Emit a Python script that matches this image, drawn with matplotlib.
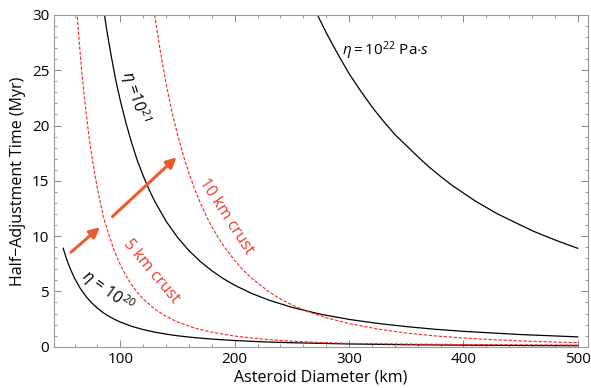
import matplotlib
matplotlib.use("Agg")
import matplotlib.pyplot as plt
from matplotlib.ticker import MultipleLocator

plt.rcParams["font.family"] = ["Open Sans", "DejaVu Sans"]
plt.rcParams["mathtext.fontset"] = "custom"
plt.rcParams["mathtext.rm"] = "Open Sans"
plt.rcParams["mathtext.it"] = "Open Sans:italic"

# black curves: uniform viscosity
d_20 = [50, 53, 56, 60, 65, 70, 75, 80, 85, 90, 95, 100, 110, 120, 130, 140, 150, 165, 180, 200,
        225, 250, 300, 350, 400, 450, 500]
t_20 = [8.9, 7.92, 7.10, 6.18, 5.27, 4.54, 3.96, 3.48, 3.08, 2.75, 2.47, 2.23, 1.84, 1.55, 1.32, 1.14,
        0.99, 0.82, 0.69, 0.56, 0.44, 0.36, 0.25, 0.18, 0.14, 0.11, 0.09]

d_21 = [85, 88, 92, 96, 100, 105, 110, 115, 120, 125, 130, 140, 150, 160, 170, 180, 190, 200, 215,
        230, 250, 275, 300, 325, 350, 375, 400, 450, 500]
t_21 = [30.8, 28.7, 26.3, 24.1, 22.25, 20.2, 18.4, 16.8, 15.45, 14.24, 13.17, 11.35, 9.89, 8.69, 7.70,
        6.87, 6.16, 5.56, 4.81, 4.21, 3.56, 2.94, 2.47, 2.11, 1.82, 1.58, 1.39, 1.10, 0.89]

d_22 = [270, 280, 290, 300, 310, 320, 330, 340, 350, 360, 370, 380, 390, 400, 410, 420, 430, 440,
        450, 460, 470, 480, 490, 500]
t_22 = [30.5, 28.4, 26.5, 24.7, 23.15, 21.7, 20.4, 19.2, 18.2, 17.2, 16.25, 15.4, 14.6, 13.9, 13.2,
        12.6, 12.0, 11.5, 11.0, 10.5, 10.07, 9.66, 9.27, 8.9]

# red dashed curves: with crust
d_5km = [62, 64, 66, 68, 70, 73, 75, 78, 80, 85, 90, 95, 100, 105, 110, 115, 120, 130, 140, 150,
         165, 180, 200, 225, 250, 275, 300, 350, 400, 450, 500]
t_5km = [30.3, 27.6, 25.2, 23.1, 21.2, 18.7, 17.3, 15.4, 14.3, 11.8, 10.1, 8.6, 7.4, 6.4, 5.58, 4.9,
         4.32, 3.41, 2.74, 2.24, 1.69, 1.31, 0.96, 0.68, 0.50, 0.38, 0.30, 0.24, 0.20, 0.17, 0.15]

d_10km = [130, 135, 140, 145, 150, 155, 160, 165, 170, 175, 180, 185, 190, 200, 207, 215, 230, 240,
          250, 265, 280, 300, 325, 350, 375, 400, 425, 450, 475, 500]
t_10km = [30, 26.7, 23.8, 21.3, 19.2, 17.3, 15.7, 14.25, 13.0, 11.85, 10.85, 9.96, 9.16, 7.8, 6.98,
          6.17, 4.96, 4.32, 3.79, 3.13, 2.62, 2.1, 1.60, 1.24, 0.98, 0.79, 0.64, 0.53, 0.44, 0.37]

fig = plt.figure(figsize=(5.91, 3.88), dpi=100)
ax = fig.add_axes([0.0914, 0.1064, 0.9036, 0.855])

ax.plot(d_20, t_20, color="black", lw=0.9)
ax.plot(d_21, t_21, color="black", lw=0.9)
ax.plot(d_22, t_22, color="black", lw=0.9)
ax.plot(d_5km, t_5km, color="#ff2020", lw=0.8, ls=(0, (3, 1.5)))
ax.plot(d_10km, t_10km, color="#ff2020", lw=0.8, ls=(0, (3, 1.5)))

arrow_kw = dict(arrowstyle="-|>,head_length=0.6,head_width=0.3", color="#ee5a2c", lw=2.2)
ax.annotate("", xy=(84, 10.97), xytext=(54.9, 8.38), arrowprops=arrow_kw)
ax.annotate("", xy=(150.9, 17.3), xytext=(91.3, 11.6), arrowprops=arrow_kw)

ax.text(113, 22.6, r"$\eta$ =10$^{21}$", rotation=-72, ha="center", va="center", fontsize=11.5)
ax.text(88.6, 5.0, r"$\eta$ = 10$^{20}$", rotation=-36, ha="center", va="center", fontsize=11.5)
ax.text(294, 26.8, r"$\eta = $10$^{22}$ Pa$\cdot$$s$", ha="left", va="center", fontsize=11)
ax.text(192.6, 11.8, "10 km crust", rotation=-57, ha="center", va="center",
        fontsize=11.5, color="#f03a2a")
ax.text(126.6, 6.8, "5 km crust", rotation=-50, ha="center", va="center",
        fontsize=11.5, color="#f03a2a")

ax.set_xlim(42, 509)
ax.set_ylim(0, 30)
ax.xaxis.set_major_locator(MultipleLocator(100))
ax.xaxis.set_minor_locator(MultipleLocator(20))
ax.yaxis.set_major_locator(MultipleLocator(5))
ax.yaxis.set_minor_locator(MultipleLocator(1))
ax.tick_params(which="both", direction="in", top=True, right=True, color="#888888",
               labelsize=11, labelcolor="black")
ax.tick_params(which="major", length=5, width=0.7)
ax.tick_params(which="minor", length=2.5, width=0.6)
ax.tick_params(axis="x", labeltop=False)
ax.tick_params(axis="y", labelright=False)
for s in ax.spines.values():
    s.set_color("#999999")
    s.set_linewidth(0.8)

ax.set_xlabel("Asteroid Diameter (km)", fontsize=11.5, labelpad=2)
ax.set_ylabel("Half\u2212Adjustment Time (Myr)", fontsize=11.5, labelpad=4)

fig.savefig("out.png", dpi=100)
